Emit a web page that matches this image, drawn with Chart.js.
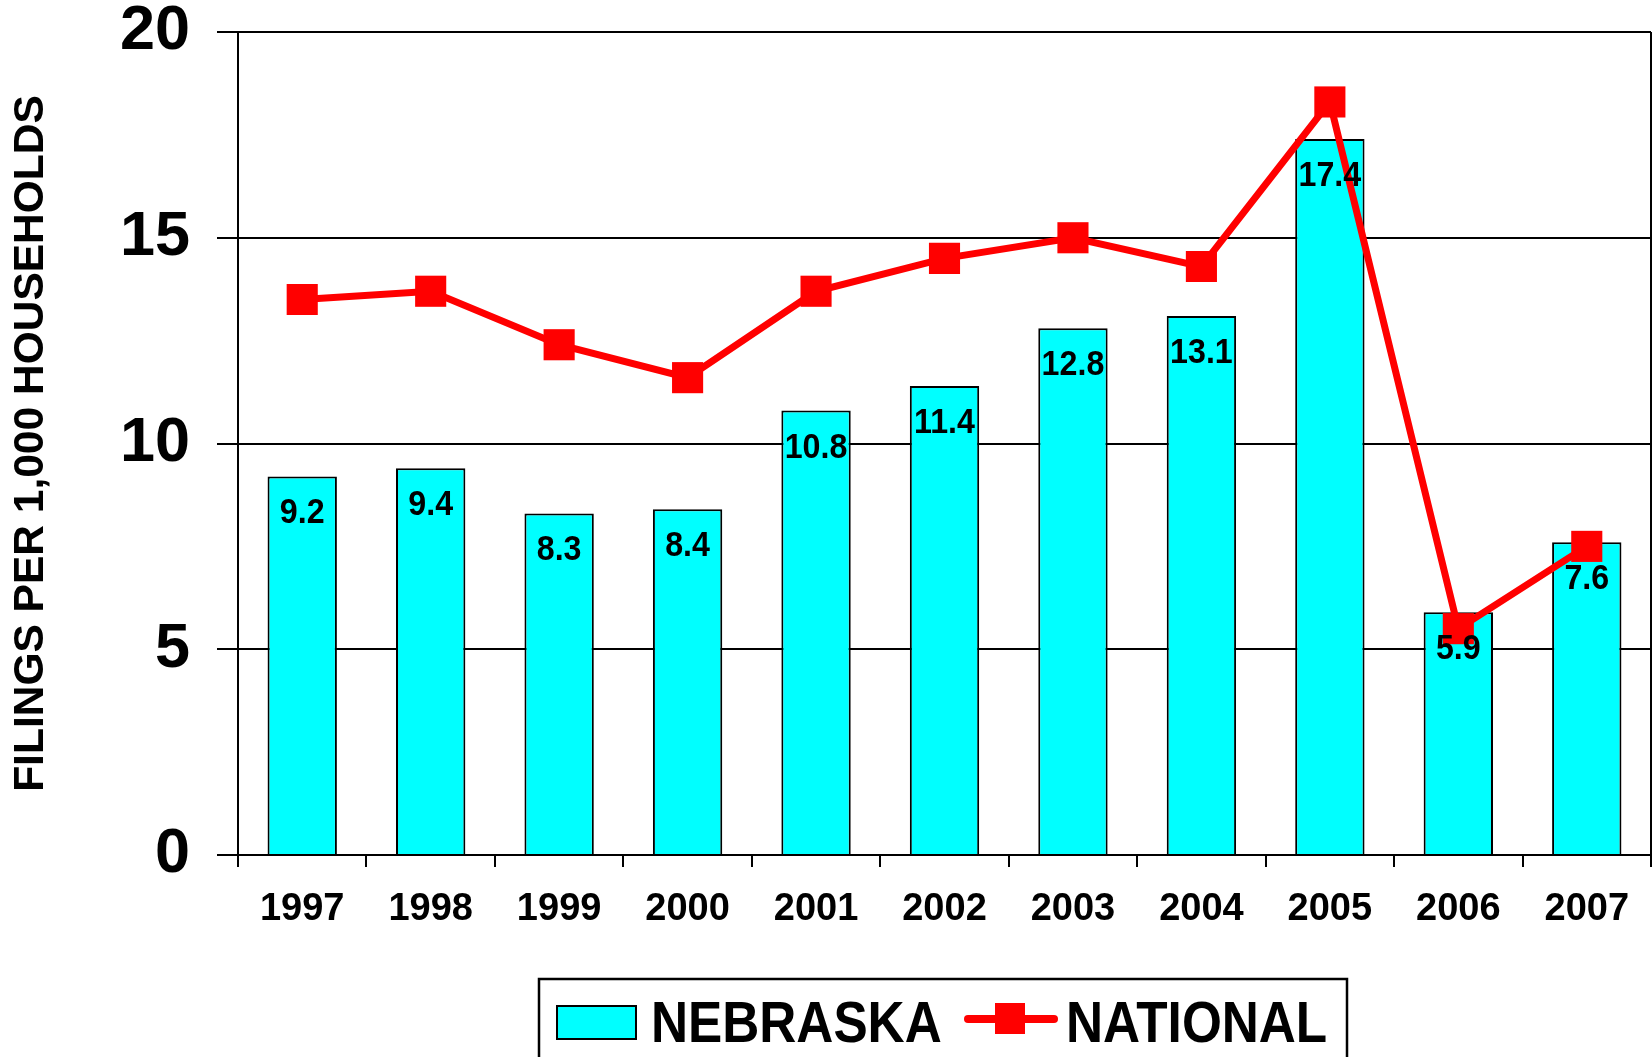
<!DOCTYPE html>
<html>
<head>
<meta charset="utf-8">
<script src="https://cdn.jsdelivr.net/npm/chart.js@4"></script>
<style>
  html, body { margin: 0; padding: 0; background: #fff; }
  canvas { display: block; }
</style>
</head>
<body>
<canvas id="filingsChart" width="1652" height="1057"></canvas>
<script>
// data
const years = ['1997', '1998', '1999', '2000', '2001', '2002', '2003', '2004', '2005', '2006', '2007'];
const nebraska = [9.2, 9.4, 8.3, 8.4, 10.8, 11.4, 12.8, 13.1, 17.4, 5.9, 7.6];
const national = [13.5, 13.7, 12.4, 11.6, 13.7, 14.5, 15.0, 14.3, 18.3, 5.5, 7.5];
const yTicks = [0, 5, 10, 15, 20];
const yTitle = 'FILINGS PER 1,000 HOUSEHOLDS';

const FONT = '"Liberation Sans", Arial, sans-serif';
const CYAN = '#00FFFF';
const RED = '#FF0000';

// value labels inside the top of each bar
const barLabels = {
  id: 'barLabels',
  afterDatasetsDraw(chart) {
    const ctx = chart.ctx;
    const meta = chart.getDatasetMeta(0);
    ctx.save();
    ctx.fillStyle = '#000';
    ctx.font = 'bold 35px ' + FONT;
    ctx.textAlign = 'center';
    ctx.textBaseline = 'alphabetic';
    meta.data.forEach((bar, i) => {
      ctx.save();
      ctx.translate(bar.x, bar.y + 47);
      ctx.scale(0.92, 1);
      ctx.fillText(nebraska[i].toFixed(1), 0, 0);
      ctx.restore();
    });
    ctx.restore();
  }
};

// right edge of the plot frame + boxed legend at the bottom
const frameAndLegend = {
  id: 'frameAndLegend',
  afterDraw(chart) {
    const ctx = chart.ctx;
    const area = chart.chartArea;
    ctx.save();
    ctx.strokeStyle = '#000';
    ctx.lineWidth = 2;
    ctx.beginPath();
    ctx.moveTo(area.right, area.top);
    ctx.lineTo(area.right, area.bottom);
    ctx.stroke();

    // legend box
    ctx.lineWidth = 2.5;
    ctx.strokeRect(539, 979, 808, 100);

    const ds = chart.data.datasets;
    // bar swatch
    ctx.fillStyle = ds[0].backgroundColor;
    ctx.fillRect(557, 1006, 79, 33);
    ctx.lineWidth = 2;
    ctx.strokeRect(557, 1006, 79, 33);

    // line + marker swatch
    ctx.strokeStyle = ds[1].borderColor;
    ctx.lineWidth = 8;
    ctx.lineCap = 'round';
    ctx.beginPath();
    ctx.moveTo(968, 1019);
    ctx.lineTo(1054, 1019);
    ctx.stroke();
    ctx.fillStyle = ds[1].borderColor;
    ctx.fillRect(995, 1003, 30, 31);

    ctx.fillStyle = '#000';
    ctx.font = 'bold 57px ' + FONT;
    ctx.textBaseline = 'alphabetic';
    ctx.textAlign = 'left';
    [[ds[0].label, 651], [ds[1].label, 1066]].forEach(([txt, x]) => {
      ctx.save();
      ctx.translate(x, 1042);
      ctx.scale(0.9, 1);
      ctx.fillText(txt, 0, 0);
      ctx.restore();
    });
    ctx.restore();
  }
};

const ctx = document.getElementById('filingsChart').getContext('2d');
new Chart(ctx, {
  type: 'bar',
  data: {
    labels: years,
    datasets: [
      {
        type: 'bar',
        label: 'NEBRASKA',
        data: nebraska,
        backgroundColor: CYAN,
        borderColor: '#000',
        borderWidth: 2,
        barPercentage: 0.54,
        categoryPercentage: 1,
        order: 2
      },
      {
        type: 'line',
        label: 'NATIONAL',
        data: national,
        borderColor: RED,
        borderWidth: 7,
        tension: 0,
        fill: false,
        clip: false,
        pointStyle: 'rect',
        pointRadius: 22,
        pointBackgroundColor: RED,
        pointBorderWidth: 0,
        order: 1
      }
    ]
  },
  options: {
    responsive: false,
    animation: false,
    devicePixelRatio: 1,
    layout: {
      autoPadding: false,
      padding: { top: 32, right: 1, bottom: 92, left: 0 }
    },
    scales: {
      x: {
        offset: true,
        afterFit: (scale) => { scale.height = 110; },
        grid: {
          offset: true,
          drawOnChartArea: false,
          drawTicks: true,
          tickLength: 12,
          color: '#000',
          lineWidth: 2
        },
        border: { display: true, color: '#000', width: 2 },
        ticks: {
          color: '#000',
          padding: 20,
          maxRotation: 0,
          font: { family: FONT, size: 38, weight: 'bold' }
        }
      },
      y: {
        min: 0,
        max: 20,
        afterFit: (scale) => {
          scale.width = 238;
          scale.paddingTop = 0;
          scale.paddingBottom = 0;
        },
        afterBuildTicks: (scale) => { scale.ticks = yTicks.map(v => ({ value: v })); },
        grid: {
          color: '#000',
          lineWidth: 2,
          tickLength: 21
        },
        border: { display: true, color: '#000', width: 2 },
        ticks: {
          color: '#000',
          padding: 27,
          font: { family: FONT, size: 63, weight: 'bold', lineHeight: 1 }
        },
        title: {
          display: true,
          text: yTitle,
          color: '#000',
          padding: { top: 6, bottom: 0 },
          font: { family: FONT, size: 42.5, weight: 'bold' }
        }
      }
    },
    plugins: {
      legend: { display: false },
      tooltip: { enabled: false },
      title: { display: false }
    }
  },
  plugins: [barLabels, frameAndLegend]
});
</script>
</body>
</html>
